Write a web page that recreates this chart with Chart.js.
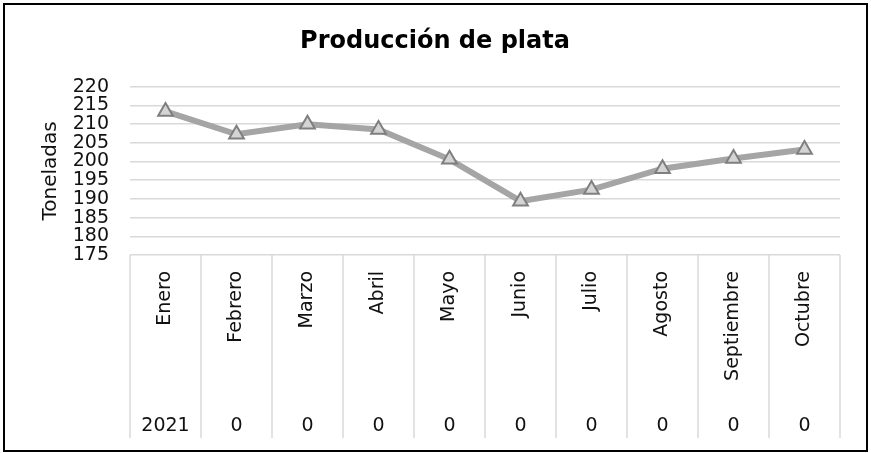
<!DOCTYPE html>
<html lang="es">
<head>
  <meta charset="utf-8">
  <title>Producción de plata</title>
  <script src="https://cdn.jsdelivr.net/npm/chart.js"></script>
  <style>
    html, body { margin: 0; padding: 0; background: #fff; }
    #wrap { width: 871px; height: 453px; position: relative; }
  </style>
</head>
<body>
  <div id="wrap"><canvas id="chart"></canvas></div>

  <script>
    // data
    const months = ['Enero', 'Febrero', 'Marzo', 'Abril', 'Mayo', 'Junio', 'Julio', 'Agosto', 'Septiembre', 'Octubre'];
    const years = ['2021', '0', '0', '0', '0', '0', '0', '0', '0', '0'];
    const toneladas = [213.4, 207.3, 210.0, 208.6, 200.6, 189.4, 192.5, 198.1, 200.8, 203.2];
    const yMin = 175, yMax = 220, yStep = 5;

    const textColor = '#111';
    const gridColor = '#d9d9d9';
    Chart.defaults.font.family = "'DejaVu Sans', sans-serif";

    // black frame round the whole chart
    const framePlugin = {
      id: 'frame',
      afterDraw(chart) {
        const ctx = chart.ctx;
        ctx.save();
        ctx.strokeStyle = '#000';
        ctx.lineWidth = 2;
        ctx.strokeRect(4, 4, chart.width - 8, chart.height - 6);
        ctx.restore();
      }
    };

    // vertical separators between the categories, under the plot only
    const separatorPlugin = {
      id: 'separators',
      afterDraw(chart) {
        const x = chart.scales.x, x2 = chart.scales.x2;
        const half = (x.getPixelForValue(1) - x.getPixelForValue(0)) / 2;
        const ctx = chart.ctx;
        ctx.save();
        ctx.strokeStyle = gridColor;
        ctx.lineWidth = 1.5;
        ctx.beginPath();
        for (let i = 0; i <= months.length; i++) {
          const px = (i < months.length ? x.getPixelForValue(i) - half : x.getPixelForValue(i - 1) + half);
          ctx.moveTo(px, chart.chartArea.bottom);
          ctx.lineTo(px, x2.bottom);
        }
        ctx.stroke();
        ctx.restore();
      }
    };

    new Chart(document.getElementById('chart'), {
      type: 'line',
      data: {
        labels: months,
        datasets: [{
          label: 'Toneladas',
          data: toneladas,
          borderColor: '#a5a5a5',
          borderWidth: 6,
          tension: 0,
          pointStyle: 'triangle',
          pointRadius: 8.5,
          pointBackgroundColor: '#d4d4d4',
          pointBorderColor: '#7f7f7f',
          pointBorderWidth: 2
        }]
      },
      options: {
        responsive: true,
        maintainAspectRatio: false,
        animation: false,
        layout: { padding: { left: 30, right: 31, top: 0, bottom: 15 } },
        plugins: {
          legend: { display: false },
          tooltip: { enabled: false },
          title: {
            display: true,
            text: 'Producción de plata',
            color: '#000',
            font: { size: 24, weight: 'bold' },
            padding: { top: 27, bottom: 31 }
          }
        },
        scales: {
          y: {
            min: yMin,
            max: yMax,
            afterFit: s => { s.width = 100; },
            ticks: { stepSize: yStep, autoSkip: false, color: textColor, font: { size: 19 }, padding: 21 },
            grid: { color: gridColor, lineWidth: 1.5, drawTicks: false },
            border: { display: false },
            title: { display: true, text: 'Toneladas', color: textColor, font: { size: 20 }, padding: { top: 9, bottom: 0 } }
          },
          x: {
            type: 'category',
            labels: months,
            offset: true,
            weight: 0,
            afterFit: s => { s.height = 150; },
            grid: { display: false },
            border: { display: false },
            ticks: { color: textColor, font: { size: 19 }, minRotation: 90, maxRotation: 90, autoSkip: false, padding: 8 }
          },
          x2: {
            type: 'category',
            labels: years,
            position: 'bottom',
            offset: true,
            weight: 1,
            afterFit: s => { s.height = 33; },
            grid: { display: false },
            border: { display: false },
            ticks: { color: textColor, font: { size: 19 }, maxRotation: 0, autoSkip: false, padding: 2 }
          }
        }
      },
      plugins: [framePlugin, separatorPlugin]
    });
  </script>
</body>
</html>
